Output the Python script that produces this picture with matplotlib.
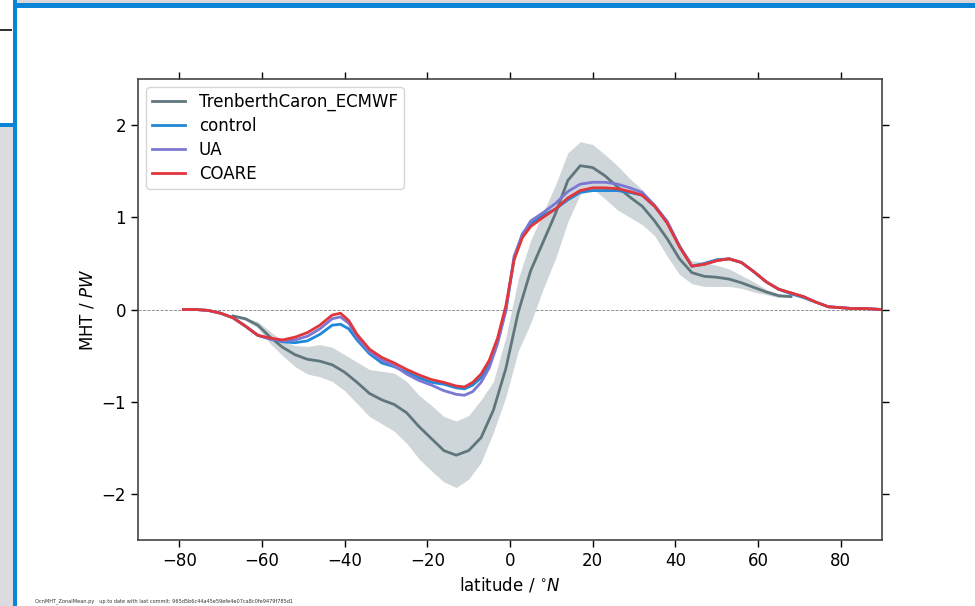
import matplotlib
matplotlib.use("Agg")
import matplotlib.pyplot as plt
from matplotlib.patches import Rectangle

# observational estimate (Trenberth & Caron, ECMWF) with its spread
obs_lat = [-67, -64, -61, -58, -55, -52, -49, -46, -43, -40, -37, -34, -31, -28,
           -25, -22, -19, -16, -13, -10, -7, -4, -1, 2, 5, 8, 11, 14, 17, 20,
           23, 26, 29, 32, 35, 38, 41, 44, 47, 50, 53, 56, 59, 62, 65, 68]
obs_mht = [-0.07, -0.10, -0.17, -0.30, -0.41, -0.49, -0.54, -0.56, -0.60, -0.68,
           -0.79, -0.91, -0.98, -1.03, -1.12, -1.27, -1.40, -1.53, -1.58, -1.53,
           -1.39, -1.09, -0.64, -0.03, 0.42, 0.73, 1.04, 1.40, 1.56, 1.54,
           1.45, 1.33, 1.22, 1.12, 0.96, 0.77, 0.55, 0.40, 0.36, 0.35,
           0.33, 0.29, 0.24, 0.19, 0.15, 0.14]
obs_hi = [-0.06, -0.09, -0.13, -0.24, -0.34, -0.39, -0.40, -0.38, -0.41, -0.49,
          -0.57, -0.65, -0.67, -0.69, -0.78, -0.93, -1.04, -1.16, -1.21, -1.15,
          -0.98, -0.78, -0.30, 0.33, 0.75, 1.05, 1.35, 1.70, 1.82, 1.79,
          1.68, 1.56, 1.42, 1.30, 1.12, 0.92, 0.70, 0.53, 0.51, 0.48,
          0.44, 0.37, 0.30, 0.22, 0.17, 0.15]
obs_lo = [-0.08, -0.12, -0.20, -0.37, -0.50, -0.62, -0.70, -0.73, -0.78, -0.88,
          -1.02, -1.16, -1.24, -1.32, -1.45, -1.62, -1.75, -1.87, -1.93, -1.84,
          -1.66, -1.33, -0.95, -0.45, -0.15, 0.22, 0.55, 0.95, 1.25, 1.31,
          1.20, 1.08, 1.00, 0.92, 0.80, 0.58, 0.38, 0.28, 0.25, 0.25,
          0.25, 0.23, 0.19, 0.16, 0.13, 0.13]

# model runs
lat = [-79, -76, -73, -70, -67, -64, -61, -58, -55, -52, -49, -46, -43, -41, -39,
       -37, -34, -31, -28, -25, -22, -19, -16, -13, -11, -9, -7, -5, -3, -1,
       1, 3, 5, 8, 11, 14, 17, 20, 23, 26, 29, 32, 35, 38, 41, 44, 47, 50,
       53, 56, 59, 62, 65, 68, 71, 74, 77, 80, 83, 86, 90]
control = [0.00, 0.00, -0.01, -0.04, -0.09, -0.18, -0.28, -0.32, -0.35, -0.36,
           -0.34, -0.27, -0.17, -0.16, -0.21, -0.33, -0.48, -0.58, -0.62, -0.68,
           -0.74, -0.79, -0.81, -0.85, -0.86, -0.82, -0.74, -0.60, -0.35, -0.01,
           0.55, 0.82, 0.93, 1.02, 1.09, 1.19, 1.27, 1.29, 1.29, 1.29, 1.27,
           1.24, 1.12, 0.95, 0.69, 0.47, 0.50, 0.54, 0.55, 0.51, 0.41, 0.30,
           0.22, 0.17, 0.13, 0.08, 0.03, 0.02, 0.01, 0.01, 0.00]
ua = [0.00, 0.00, -0.01, -0.04, -0.09, -0.18, -0.28, -0.32, -0.34, -0.33,
      -0.29, -0.21, -0.10, -0.08, -0.15, -0.30, -0.46, -0.55, -0.61, -0.70,
      -0.77, -0.82, -0.88, -0.92, -0.93, -0.89, -0.79, -0.63, -0.37, -0.01,
      0.58, 0.81, 0.96, 1.05, 1.15, 1.28, 1.36, 1.38, 1.38, 1.36, 1.32,
      1.27, 1.13, 0.96, 0.69, 0.47, 0.49, 0.53, 0.55, 0.51, 0.41, 0.30,
      0.22, 0.18, 0.14, 0.08, 0.03, 0.02, 0.01, 0.01, 0.00]
coare = [0.00, 0.00, -0.01, -0.04, -0.09, -0.18, -0.28, -0.31, -0.33, -0.30,
         -0.25, -0.17, -0.06, -0.04, -0.12, -0.27, -0.43, -0.52, -0.58, -0.65,
         -0.71, -0.76, -0.79, -0.83, -0.84, -0.79, -0.70, -0.55, -0.31, 0.04,
         0.54, 0.78, 0.90, 1.00, 1.09, 1.21, 1.29, 1.32, 1.32, 1.31, 1.28,
         1.24, 1.12, 0.94, 0.68, 0.47, 0.49, 0.53, 0.55, 0.51, 0.41, 0.30,
         0.22, 0.18, 0.14, 0.08, 0.03, 0.02, 0.01, 0.01, 0.00]

xticks = [-80, -60, -40, -20, 0, 20, 40, 60, 80]
yticks = [-2, -1, 0, 1, 2]

plt.rcParams['font.size'] = 12

fig = plt.figure(figsize=(9.75, 6.06), dpi=100)

# bits of the surrounding window from the screenshot
fig.patches.append(Rectangle((0, 0), 13 / 975, 481 / 606, transform=fig.transFigure,
                             facecolor='#dcdce0', edgecolor='none', zorder=0))
fig.patches.append(Rectangle((0, 479 / 606), 15 / 975, 4 / 606, transform=fig.transFigure,
                             facecolor='#0a84d6', edgecolor='none', zorder=1))
fig.patches.append(Rectangle((13 / 975, 0), 4 / 975, 1, transform=fig.transFigure,
                             facecolor='#0a84d6', edgecolor='none', zorder=1))
fig.patches.append(Rectangle((17 / 975, 603 / 606), 958 / 975, 3 / 606, transform=fig.transFigure,
                             facecolor='#d8d8dc', edgecolor='none', zorder=0))
fig.patches.append(Rectangle((17 / 975, 598 / 606), 958 / 975, 5 / 606, transform=fig.transFigure,
                             facecolor='#0a84d6', edgecolor='none', zorder=1))
fig.patches.append(Rectangle((0, 575 / 606), 12 / 975, 2 / 606, transform=fig.transFigure,
                             facecolor='#333333', edgecolor='none', zorder=1))

ax = fig.add_axes([0.1415, 0.1089, 0.7631, 0.7607])

ax.fill_between(obs_lat, obs_lo, obs_hi, color='#cfd6da', linewidth=0)
ax.plot(obs_lat, obs_mht, color='#5f777c', lw=2, label='TrenberthCaron_ECMWF')
ax.plot(lat, control, color='#1f88d8', lw=2, label='control')
ax.plot(lat, ua, color='#7b78d4', lw=2, label='UA')
ax.plot(lat, coare, color='#e0363c', lw=2, label='COARE')
ax.axhline(0, color='gray', lw=0.6, ls='--', zorder=0.5)

ax.set_xlim(-90, 90)
ax.set_ylim(-2.5, 2.5)
ax.set_xticks(xticks)
ax.set_yticks(yticks)
ax.tick_params(direction='out', length=5, width=1, top=True, right=True,
               labeltop=False, labelright=False)
for s in ax.spines.values():
    s.set_color('#444444')
    s.set_linewidth(1.2)

ax.set_xlabel(r'latitude / $^{\circ}N$')
ax.set_ylabel(r'MHT / $PW$')
ax.legend(loc='upper left', fontsize=12, framealpha=0.8, edgecolor='#cccccc',
          labelspacing=0.35, borderpad=0.35)

fig.text(35 / 975, 4 / 606,
         'OcnMHT_ZonalMean.py   up to date with last commit: 965d5b6c44a45e59efe4e07ca8c0fe9479f785d1',
         fontsize=3.6, color='#333333')

fig.savefig('out.png', dpi=100)
